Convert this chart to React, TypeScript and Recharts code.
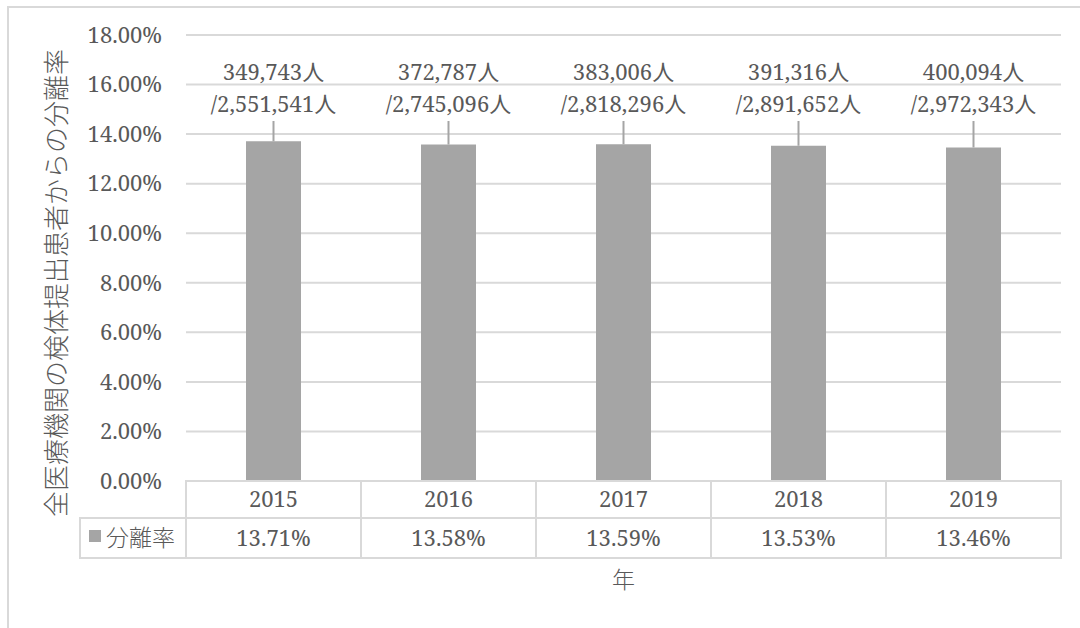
import { Bar, BarChart, CartesianGrid, LabelList, XAxis, YAxis } from 'recharts';

const years = ['2015', '2016', '2017', '2018', '2019'];
const rates = [13.71, 13.58, 13.59, 13.53, 13.46];
const isolated = ['349,743人', '372,787人', '383,006人', '391,316人', '400,094人'];
const submitted = ['/2,551,541人', '/2,745,096人', '/2,818,296人', '/2,891,652人', '/2,972,343人'];
const yTicks = [0, 2, 4, 6, 8, 10, 12, 14, 16, 18];

const seriesName = '分離率';
const yTitle = '全医療機関の検体提出患者からの分離率';
const xTitle = '年';

const W = 1080;
const H = 628;
const PLOT_LEFT = 186;
const PLOT_RIGHT = 1061;
const PLOT_TOP = 35;
const PLOT_BOTTOM = 481;
const Y_AXIS_W = 100;
const ROW1_H = 37;
const ROW2_H = 40;

const TEXT = '#595959';
const GRID = '#d9d9d9';
const BAR = '#a5a5a5';
const FONT = "'Noto Serif', 'Noto Sans CJK JP', serif";
const JP_FONT = "'Noto Sans CJK JP', sans-serif";

const data = years.map((year, i) => ({ year, rate: rates[i] }));
const cellW = (PLOT_RIGHT - PLOT_LEFT) / years.length;

function TableTick(props: any) {
  const { x, payload } = props;
  const i = payload.index;
  const top = PLOT_BOTTOM;
  return (
    <g>
      <rect x={x - cellW / 2} y={top} width={cellW} height={ROW1_H} fill="none" stroke={GRID} strokeWidth={2} />
      <rect x={x - cellW / 2} y={top + ROW1_H} width={cellW} height={ROW2_H} fill="none" stroke={GRID} strokeWidth={2} />
      <text x={x} y={top + ROW1_H / 2} dy="0.36em" textAnchor="middle" fill={TEXT} fontSize={22} fontFamily={FONT}>
        {years[i]}
      </text>
      <text x={x} y={top + ROW1_H + ROW2_H / 2} dy="0.36em" textAnchor="middle" fill={TEXT} fontSize={22} fontFamily={FONT}>
        {rates[i].toFixed(2)}%
      </text>
      {i === 0 && (
        <g>
          <rect x={80} y={top + ROW1_H} width={PLOT_LEFT - 80} height={ROW2_H} fill="none" stroke={GRID} strokeWidth={2} />
          <rect x={89} y={top + ROW1_H + 12} width={12} height={12} fill={BAR} />
          <text x={106} y={top + ROW1_H + ROW2_H / 2} dy="0.36em" fill={TEXT} fontSize={23} fontWeight={300} fontFamily={JP_FONT}>
            {seriesName}
          </text>
        </g>
      )}
    </g>
  );
}

function BarLabel(props: any) {
  const { x, y, width, index } = props;
  const cx = x + width / 2;
  return (
    <g>
      <line x1={cx} x2={cx} y1={121} y2={y} stroke={BAR} strokeWidth={2} />
      <text x={cx} y={72} dy="0.36em" textAnchor="middle" fill={TEXT} fontSize={22} fontFamily={FONT}>
        {isolated[index]}
      </text>
      <text x={cx} y={104} dy="0.36em" textAnchor="middle" fill={TEXT} fontSize={22} fontFamily={FONT}>
        {submitted[index]}
      </text>
    </g>
  );
}

export default function App() {
  return (
    <div style={{ position: 'absolute', left: 0, top: 0, width: W, height: H, overflow: 'hidden', background: '#fff' }}>
      <div
        style={{
          position: 'absolute',
          left: 7,
          top: 6,
          width: W,
          height: H,
          borderLeft: `2px solid ${GRID}`,
          borderTop: `2px solid ${GRID}`,
        }}
      />
      <div style={{ position: 'absolute', left: 0, top: 0 }}>
        <BarChart
          width={W}
          height={H}
          data={data}
          margin={{
            top: PLOT_TOP,
            right: W - PLOT_RIGHT,
            left: PLOT_LEFT - Y_AXIS_W,
            bottom: H - PLOT_BOTTOM - ROW1_H - ROW2_H,
          }}
        >
          <CartesianGrid vertical={false} stroke={GRID} strokeWidth={2} />
          <XAxis
            dataKey="year"
            height={ROW1_H + ROW2_H}
            axisLine={false}
            tickLine={false}
            tick={<TableTick />}
            interval={0}
          />
          <YAxis
            width={Y_AXIS_W}
            domain={[0, 18]}
            ticks={yTicks}
            axisLine={false}
            tickLine={false}
            tickSize={0}
            tickMargin={24}
            tickFormatter={(v: number) => `${v.toFixed(2)}%`}
            tick={{ fill: TEXT, fontSize: 22, fontFamily: FONT }}
          />
          <Bar dataKey="rate" fill={BAR} barSize={55} isAnimationActive={false}>
            <LabelList dataKey="rate" content={<BarLabel />} />
          </Bar>
        </BarChart>
      </div>
      <svg style={{ position: 'absolute', left: 0, top: 0 }} width={W} height={H} pointerEvents="none">
        <text
          x={57}
          y={283}
          transform="rotate(-90 57 283)"
          textAnchor="middle"
          dy="0.36em"
          fill={TEXT}
          fontSize={26}
          fontWeight={300}
          fontFamily={JP_FONT}
        >
          {yTitle}
        </text>
        <text
          x={(PLOT_LEFT + PLOT_RIGHT) / 2}
          y={580}
          dy="0.36em"
          textAnchor="middle"
          fill={TEXT}
          fontSize={23}
          fontWeight={300}
          fontFamily={JP_FONT}
        >
          {xTitle}
        </text>
      </svg>
    </div>
  );
}
